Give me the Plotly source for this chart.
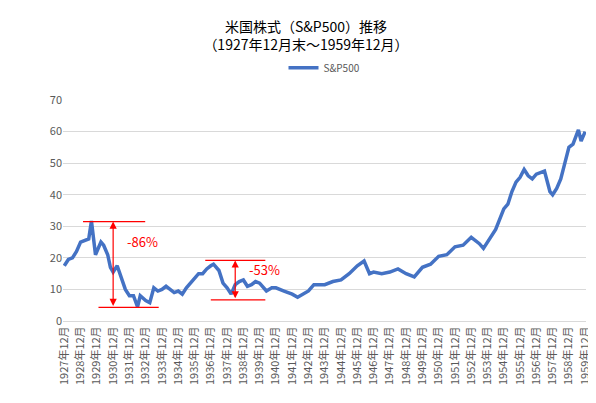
import plotly.graph_objects as go

dates = ["1927-12","1928-03","1928-06","1928-09","1928-12","1929-03","1929-06","1929-08","1929-11","1929-12",
         "1930-03","1930-05","1930-08","1930-10","1930-12","1931-03","1931-06","1931-09","1931-12","1932-03",
         "1932-06","1932-08","1932-12","1933-03","1933-06","1933-09","1933-12","1934-03","1934-06","1934-09",
         "1934-12","1935-03","1935-06","1935-09","1935-12","1936-03","1936-06","1936-09","1936-12","1937-02",
         "1937-06","1937-09","1937-12","1938-03","1938-06","1938-09","1938-12","1939-03","1939-06","1939-09",
         "1939-12","1940-05","1940-09","1940-12","1941-06","1941-12","1942-04","1942-08","1942-12","1943-04",
         "1943-08","1943-12","1944-06","1944-12","1945-06","1945-12","1946-05","1946-09","1946-12","1947-06",
         "1947-12","1948-06","1948-12","1949-06","1949-12","1950-06","1950-12","1951-06","1951-12","1952-06",
         "1952-12","1953-06","1953-09","1953-12","1954-06","1954-12","1955-03","1955-06","1955-09","1955-12",
         "1956-03","1956-06","1956-09","1956-12","1957-06","1957-10","1957-12","1958-03","1958-06","1958-09",
         "1958-12","1959-03","1959-07","1959-09","1959-12"]
sp500 = [17.5,19.5,20,22,25,25.5,26,31.7,21,22,
         25,24,21,17,15.5,17.5,14,10,8,8,
         4.5,8,6.5,5.8,10.5,9.5,10,11,10,9,
         9.5,8.5,10.5,12,13.5,15,15,16.5,17.5,18,
         16,12,10.5,8.5,11.5,12.5,13,11,11.5,12.5,
         12,9.5,10.5,10.5,9.5,8.5,7.5,8.5,9.5,11.5,
         11.5,11.5,12.5,13,15,17.5,19,15,15.5,15,
         15.5,16.5,15,14,17,18,20.5,21,23.5,24,
         26.5,24.5,23,25,29,35.5,37,41,44,45.5,
         48,46,45,46.5,47.5,41,40,42,45,50,
         55,56,60.5,57,60]
tick_years = list(range(1927, 1960))
tick_labels = [f"{y}年12月" for y in tick_years]

def dec(s):
    y, m = s.split("-")
    return int(y) + int(m) / 12

x = [dec(d) for d in dates]
red = "#ff0000"

fig = go.Figure()
fig.add_trace(go.Scatter(x=x, y=sp500, mode="lines", name="S&P500",
                         line=dict(color="#4472c4", width=3.5)))

# drawdown markers
for x0, x1, yv in [(1929.15, 1932.97, 31.5), (1930.1, 1933.8, 4.3),
                   (1936.66, 1940.35, 19.2), (1937.0, 1940.35, 6.7)]:
    fig.add_shape(type="line", x0=x0, x1=x1, y0=yv, y1=yv, line=dict(color=red, width=1.2))
for xa, y0, y1, txt, ty in [(1931.0, 4.3, 31.5, "-86%", 25.2), (1938.5, 6.7, 19.2, "-53%", 16.3)]:
    fig.add_annotation(x=xa, y=y1, ax=xa, ay=y0, xref="x", yref="y", axref="x", ayref="y",
                       text="", showarrow=True, arrowhead=2, arrowside="end+start",
                       arrowsize=1.2, arrowwidth=1.2, arrowcolor=red)
    fig.add_annotation(x=xa + 0.7, y=ty, text=txt, showarrow=False, xanchor="left",
                       font=dict(color=red, size=13))

fig.update_layout(
    width=596, height=403,
    title=dict(text="米国株式（S&P500）推移<br>（1927年12月末～1959年12月）", x=0.5, y=0.94,
               yanchor="top", font=dict(size=14, color="#000")),
    font=dict(family="Noto Sans CJK JP", color="#595959"),
    plot_bgcolor="white", paper_bgcolor="white",
    margin=dict(l=55, r=12, t=92, b=90),
    showlegend=True,
    legend=dict(orientation="h", x=0.5, xanchor="center", y=1.08, yanchor="bottom",
                font=dict(size=10, color="#595959")),
    xaxis=dict(range=[1927.92, 1960.05], tickvals=[y + 1 for y in tick_years], ticktext=tick_labels,
               tickangle=-90, tickfont=dict(size=11), showgrid=False, showline=True,
               linecolor="#d9d9d9", zeroline=False),
    yaxis=dict(range=[0, 70], dtick=10, gridcolor="#d9d9d9", zeroline=False,
               tickfont=dict(size=11), showline=False),
)
fig.write_html("out.html")
